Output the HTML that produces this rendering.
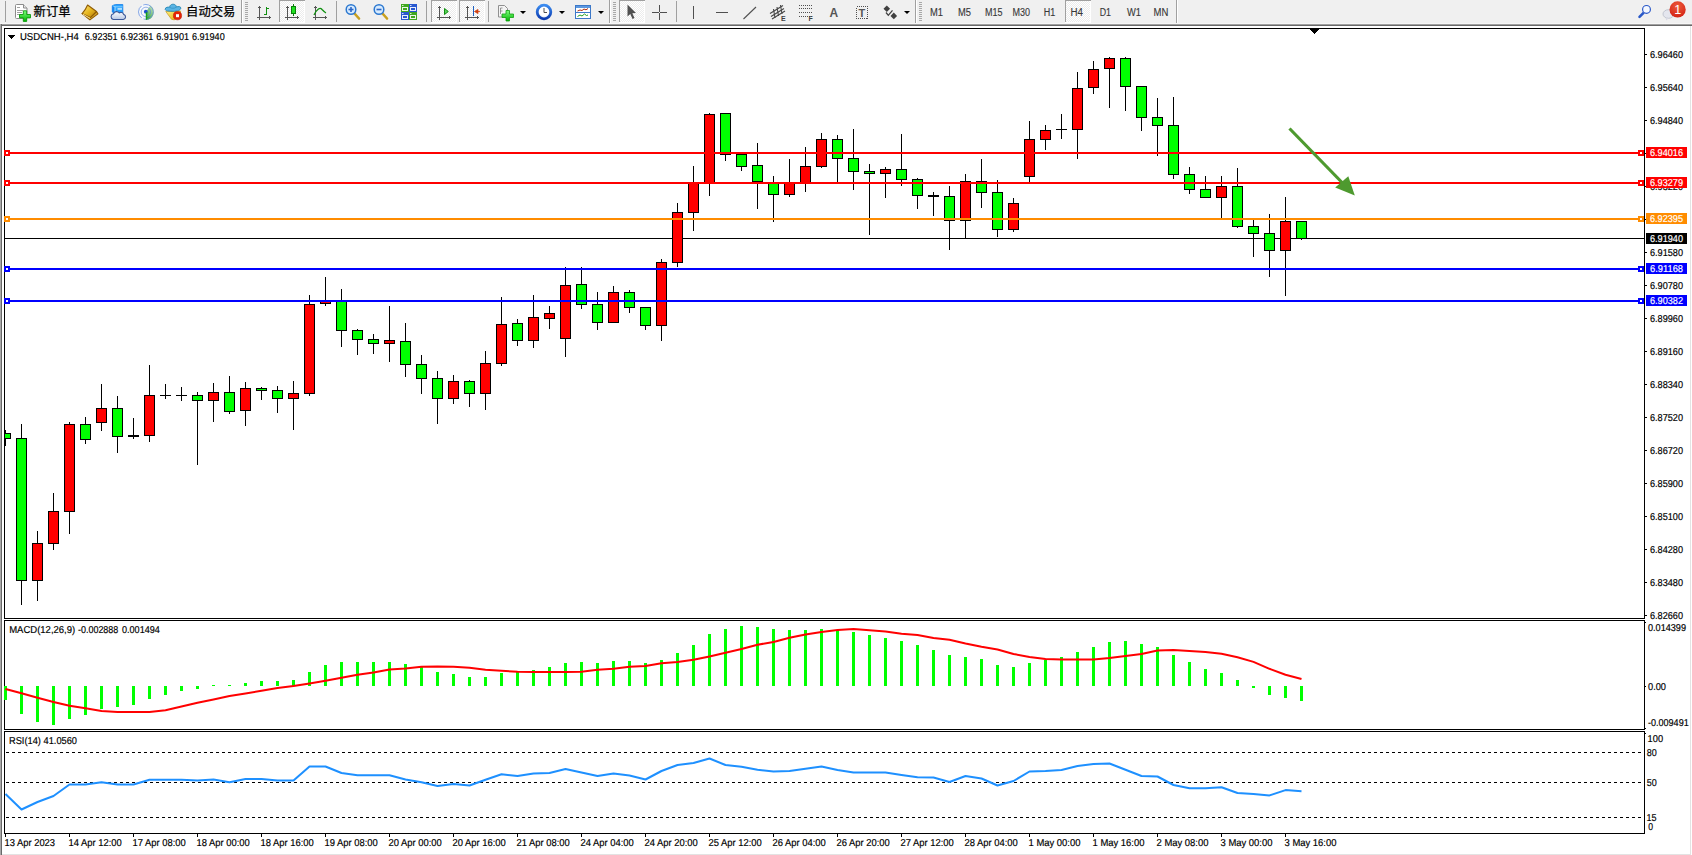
<!DOCTYPE html>
<html lang="zh"><head><meta charset="utf-8"><title>USDCNH H4</title>
<style>
html,body{margin:0;padding:0;background:#fff;overflow:hidden}
body{width:1692px;height:855px;position:relative;font-family:"Liberation Sans", "Noto Sans CJK SC", sans-serif;}
#tb{position:absolute;left:0;top:0;width:1692px;height:23px;background:#f0f0f0;overflow:hidden}
#tb .t{position:absolute;white-space:nowrap;color:#000;-webkit-text-stroke:0.25px #000}
#tb .tf{position:absolute;white-space:nowrap;color:#3c3c3c;font-size:10px;line-height:10px;top:8px;transform-origin:0 0}
</style></head><body>
<svg id="chart" width="1692" height="855" viewBox="0 0 1692 855" shape-rendering="crispEdges" text-rendering="geometricPrecision" font-family='"Liberation Sans", sans-serif' style="position:absolute;left:0;top:0">
<defs><clipPath id="cm"><rect x="5" y="29" width="1639" height="589"/></clipPath></defs>
<rect x="0" y="23" width="1692" height="1" fill="#f6f6f6"/>
<rect x="0" y="24" width="1692" height="1" fill="#a0a0a0"/>
<rect x="0" y="25" width="1692" height="1" fill="#696969"/>
<rect x="1" y="24" width="1" height="831" fill="#696969"/>
<rect x="1690" y="26" width="1" height="829" fill="#e3e3e3"/>
<rect x="2" y="854" width="1689" height="1" fill="#e3e3e3"/>
<rect x="0" y="24" width="1" height="831" fill="#a8a8a8"/>
<rect x="4" y="28" width="1641" height="1" fill="#000"/>
<rect x="4" y="618" width="1641" height="1" fill="#000"/>
<rect x="4" y="28" width="1" height="591" fill="#000"/>
<rect x="1644" y="28" width="1" height="591" fill="#000"/>
<rect x="4" y="620" width="1641" height="1" fill="#000"/>
<rect x="4" y="729" width="1641" height="1" fill="#000"/>
<rect x="4" y="620" width="1" height="110" fill="#000"/>
<rect x="1644" y="620" width="1" height="110" fill="#000"/>
<rect x="4" y="731" width="1641" height="1" fill="#000"/>
<rect x="4" y="833" width="1641" height="1" fill="#000"/>
<rect x="4" y="731" width="1" height="103" fill="#000"/>
<rect x="1644" y="731" width="1" height="103" fill="#000"/>
<g clip-path="url(#cm)">
<rect x="5" y="238" width="1639" height="1" fill="#000"/>
<rect x="5" y="430" width="1" height="16" fill="#000"/>
<rect x="0" y="433" width="11" height="6" fill="#000"/>
<rect x="1" y="434" width="9" height="4" fill="#00ff00"/>
<rect x="21" y="424" width="1" height="181" fill="#000"/>
<rect x="16" y="438" width="11" height="143" fill="#000"/>
<rect x="17" y="439" width="9" height="141" fill="#00ff00"/>
<rect x="37" y="531" width="1" height="70" fill="#000"/>
<rect x="32" y="543" width="11" height="38" fill="#000"/>
<rect x="33" y="544" width="9" height="36" fill="#ff0000"/>
<rect x="53" y="493" width="1" height="57" fill="#000"/>
<rect x="48" y="511" width="11" height="33" fill="#000"/>
<rect x="49" y="512" width="9" height="31" fill="#ff0000"/>
<rect x="69" y="422" width="1" height="112" fill="#000"/>
<rect x="64" y="424" width="11" height="88" fill="#000"/>
<rect x="65" y="425" width="9" height="86" fill="#ff0000"/>
<rect x="85" y="417" width="1" height="27" fill="#000"/>
<rect x="80" y="424" width="11" height="16" fill="#000"/>
<rect x="81" y="425" width="9" height="14" fill="#00ff00"/>
<rect x="101" y="384" width="1" height="47" fill="#000"/>
<rect x="96" y="408" width="11" height="15" fill="#000"/>
<rect x="97" y="409" width="9" height="13" fill="#ff0000"/>
<rect x="117" y="396" width="1" height="57" fill="#000"/>
<rect x="112" y="408" width="11" height="29" fill="#000"/>
<rect x="113" y="409" width="9" height="27" fill="#00ff00"/>
<rect x="133" y="418" width="1" height="21" fill="#000"/>
<rect x="128" y="435" width="11" height="2" fill="#000"/>
<rect x="149" y="365" width="1" height="77" fill="#000"/>
<rect x="144" y="395" width="11" height="41" fill="#000"/>
<rect x="145" y="396" width="9" height="39" fill="#ff0000"/>
<rect x="165" y="384" width="1" height="15" fill="#000"/>
<rect x="160" y="395" width="11" height="1" fill="#000"/>
<rect x="181" y="387" width="1" height="14" fill="#000"/>
<rect x="176" y="395" width="11" height="1" fill="#000"/>
<rect x="197" y="392" width="1" height="73" fill="#000"/>
<rect x="192" y="395" width="11" height="6" fill="#000"/>
<rect x="193" y="396" width="9" height="4" fill="#00ff00"/>
<rect x="213" y="383" width="1" height="39" fill="#000"/>
<rect x="208" y="392" width="11" height="9" fill="#000"/>
<rect x="209" y="393" width="9" height="7" fill="#ff0000"/>
<rect x="229" y="376" width="1" height="38" fill="#000"/>
<rect x="224" y="392" width="11" height="20" fill="#000"/>
<rect x="225" y="393" width="9" height="18" fill="#00ff00"/>
<rect x="245" y="382" width="1" height="44" fill="#000"/>
<rect x="240" y="388" width="11" height="23" fill="#000"/>
<rect x="241" y="389" width="9" height="21" fill="#ff0000"/>
<rect x="261" y="387" width="1" height="13" fill="#000"/>
<rect x="256" y="388" width="11" height="3" fill="#000"/>
<rect x="257" y="389" width="9" height="1" fill="#00ff00"/>
<rect x="277" y="386" width="1" height="27" fill="#000"/>
<rect x="272" y="390" width="11" height="9" fill="#000"/>
<rect x="273" y="391" width="9" height="7" fill="#00ff00"/>
<rect x="293" y="381" width="1" height="49" fill="#000"/>
<rect x="288" y="393" width="11" height="6" fill="#000"/>
<rect x="289" y="394" width="9" height="4" fill="#ff0000"/>
<rect x="309" y="295" width="1" height="101" fill="#000"/>
<rect x="304" y="304" width="11" height="90" fill="#000"/>
<rect x="305" y="305" width="9" height="88" fill="#ff0000"/>
<rect x="325" y="277" width="1" height="29" fill="#000"/>
<rect x="320" y="301" width="11" height="3" fill="#000"/>
<rect x="321" y="302" width="9" height="1" fill="#ff0000"/>
<rect x="341" y="289" width="1" height="58" fill="#000"/>
<rect x="336" y="301" width="11" height="30" fill="#000"/>
<rect x="337" y="302" width="9" height="28" fill="#00ff00"/>
<rect x="357" y="329" width="1" height="26" fill="#000"/>
<rect x="352" y="330" width="11" height="10" fill="#000"/>
<rect x="353" y="331" width="9" height="8" fill="#00ff00"/>
<rect x="373" y="334" width="1" height="20" fill="#000"/>
<rect x="368" y="339" width="11" height="5" fill="#000"/>
<rect x="369" y="340" width="9" height="3" fill="#00ff00"/>
<rect x="389" y="306" width="1" height="56" fill="#000"/>
<rect x="384" y="340" width="11" height="4" fill="#000"/>
<rect x="385" y="341" width="9" height="2" fill="#ff0000"/>
<rect x="405" y="323" width="1" height="54" fill="#000"/>
<rect x="400" y="341" width="11" height="24" fill="#000"/>
<rect x="401" y="342" width="9" height="22" fill="#00ff00"/>
<rect x="421" y="355" width="1" height="39" fill="#000"/>
<rect x="416" y="364" width="11" height="15" fill="#000"/>
<rect x="417" y="365" width="9" height="13" fill="#00ff00"/>
<rect x="437" y="371" width="1" height="53" fill="#000"/>
<rect x="432" y="378" width="11" height="21" fill="#000"/>
<rect x="433" y="379" width="9" height="19" fill="#00ff00"/>
<rect x="453" y="375" width="1" height="29" fill="#000"/>
<rect x="448" y="381" width="11" height="18" fill="#000"/>
<rect x="449" y="382" width="9" height="16" fill="#ff0000"/>
<rect x="469" y="380" width="1" height="27" fill="#000"/>
<rect x="464" y="381" width="11" height="13" fill="#000"/>
<rect x="465" y="382" width="9" height="11" fill="#00ff00"/>
<rect x="485" y="351" width="1" height="59" fill="#000"/>
<rect x="480" y="363" width="11" height="31" fill="#000"/>
<rect x="481" y="364" width="9" height="29" fill="#ff0000"/>
<rect x="501" y="297" width="1" height="69" fill="#000"/>
<rect x="496" y="324" width="11" height="40" fill="#000"/>
<rect x="497" y="325" width="9" height="38" fill="#ff0000"/>
<rect x="517" y="319" width="1" height="27" fill="#000"/>
<rect x="512" y="323" width="11" height="18" fill="#000"/>
<rect x="513" y="324" width="9" height="16" fill="#00ff00"/>
<rect x="533" y="295" width="1" height="53" fill="#000"/>
<rect x="528" y="317" width="11" height="24" fill="#000"/>
<rect x="529" y="318" width="9" height="22" fill="#ff0000"/>
<rect x="549" y="306" width="1" height="23" fill="#000"/>
<rect x="544" y="313" width="11" height="6" fill="#000"/>
<rect x="545" y="314" width="9" height="4" fill="#ff0000"/>
<rect x="565" y="267" width="1" height="90" fill="#000"/>
<rect x="560" y="285" width="11" height="54" fill="#000"/>
<rect x="561" y="286" width="9" height="52" fill="#ff0000"/>
<rect x="581" y="267" width="1" height="42" fill="#000"/>
<rect x="576" y="284" width="11" height="21" fill="#000"/>
<rect x="577" y="285" width="9" height="19" fill="#00ff00"/>
<rect x="597" y="292" width="1" height="38" fill="#000"/>
<rect x="592" y="304" width="11" height="19" fill="#000"/>
<rect x="593" y="305" width="9" height="17" fill="#00ff00"/>
<rect x="613" y="286" width="1" height="37" fill="#000"/>
<rect x="608" y="292" width="11" height="31" fill="#000"/>
<rect x="609" y="293" width="9" height="29" fill="#ff0000"/>
<rect x="629" y="290" width="1" height="23" fill="#000"/>
<rect x="624" y="292" width="11" height="16" fill="#000"/>
<rect x="625" y="293" width="9" height="14" fill="#00ff00"/>
<rect x="645" y="307" width="1" height="23" fill="#000"/>
<rect x="640" y="307" width="11" height="19" fill="#000"/>
<rect x="641" y="308" width="9" height="17" fill="#00ff00"/>
<rect x="661" y="259" width="1" height="82" fill="#000"/>
<rect x="656" y="262" width="11" height="64" fill="#000"/>
<rect x="657" y="263" width="9" height="62" fill="#ff0000"/>
<rect x="677" y="203" width="1" height="64" fill="#000"/>
<rect x="672" y="212" width="11" height="51" fill="#000"/>
<rect x="673" y="213" width="9" height="49" fill="#ff0000"/>
<rect x="693" y="166" width="1" height="65" fill="#000"/>
<rect x="688" y="183" width="11" height="30" fill="#000"/>
<rect x="689" y="184" width="9" height="28" fill="#ff0000"/>
<rect x="709" y="113" width="1" height="83" fill="#000"/>
<rect x="704" y="114" width="11" height="70" fill="#000"/>
<rect x="705" y="115" width="9" height="68" fill="#ff0000"/>
<rect x="725" y="113" width="1" height="48" fill="#000"/>
<rect x="720" y="113" width="11" height="42" fill="#000"/>
<rect x="721" y="114" width="9" height="40" fill="#00ff00"/>
<rect x="741" y="154" width="1" height="17" fill="#000"/>
<rect x="736" y="154" width="11" height="13" fill="#000"/>
<rect x="737" y="155" width="9" height="11" fill="#00ff00"/>
<rect x="757" y="143" width="1" height="66" fill="#000"/>
<rect x="752" y="165" width="11" height="17" fill="#000"/>
<rect x="753" y="166" width="9" height="15" fill="#00ff00"/>
<rect x="773" y="176" width="1" height="46" fill="#000"/>
<rect x="768" y="183" width="11" height="12" fill="#000"/>
<rect x="769" y="184" width="9" height="10" fill="#00ff00"/>
<rect x="789" y="159" width="1" height="38" fill="#000"/>
<rect x="784" y="183" width="11" height="12" fill="#000"/>
<rect x="785" y="184" width="9" height="10" fill="#ff0000"/>
<rect x="805" y="147" width="1" height="45" fill="#000"/>
<rect x="800" y="166" width="11" height="18" fill="#000"/>
<rect x="801" y="167" width="9" height="16" fill="#ff0000"/>
<rect x="821" y="133" width="1" height="35" fill="#000"/>
<rect x="816" y="139" width="11" height="28" fill="#000"/>
<rect x="817" y="140" width="9" height="26" fill="#ff0000"/>
<rect x="837" y="135" width="1" height="47" fill="#000"/>
<rect x="832" y="139" width="11" height="20" fill="#000"/>
<rect x="833" y="140" width="9" height="18" fill="#00ff00"/>
<rect x="853" y="129" width="1" height="61" fill="#000"/>
<rect x="848" y="158" width="11" height="14" fill="#000"/>
<rect x="849" y="159" width="9" height="12" fill="#00ff00"/>
<rect x="869" y="164" width="1" height="71" fill="#000"/>
<rect x="864" y="171" width="11" height="3" fill="#000"/>
<rect x="865" y="172" width="9" height="1" fill="#00ff00"/>
<rect x="885" y="167" width="1" height="31" fill="#000"/>
<rect x="880" y="169" width="11" height="5" fill="#000"/>
<rect x="881" y="170" width="9" height="3" fill="#ff0000"/>
<rect x="901" y="134" width="1" height="52" fill="#000"/>
<rect x="896" y="169" width="11" height="11" fill="#000"/>
<rect x="897" y="170" width="9" height="9" fill="#00ff00"/>
<rect x="917" y="178" width="1" height="31" fill="#000"/>
<rect x="912" y="179" width="11" height="17" fill="#000"/>
<rect x="913" y="180" width="9" height="15" fill="#00ff00"/>
<rect x="933" y="192" width="1" height="24" fill="#000"/>
<rect x="928" y="195" width="11" height="2" fill="#000"/>
<rect x="949" y="186" width="1" height="64" fill="#000"/>
<rect x="944" y="196" width="11" height="25" fill="#000"/>
<rect x="945" y="197" width="9" height="23" fill="#00ff00"/>
<rect x="965" y="174" width="1" height="64" fill="#000"/>
<rect x="960" y="181" width="11" height="40" fill="#000"/>
<rect x="961" y="182" width="9" height="38" fill="#ff0000"/>
<rect x="981" y="159" width="1" height="49" fill="#000"/>
<rect x="976" y="181" width="11" height="12" fill="#000"/>
<rect x="977" y="182" width="9" height="10" fill="#00ff00"/>
<rect x="997" y="180" width="1" height="57" fill="#000"/>
<rect x="992" y="192" width="11" height="38" fill="#000"/>
<rect x="993" y="193" width="9" height="36" fill="#00ff00"/>
<rect x="1013" y="198" width="1" height="34" fill="#000"/>
<rect x="1008" y="203" width="11" height="27" fill="#000"/>
<rect x="1009" y="204" width="9" height="25" fill="#ff0000"/>
<rect x="1029" y="121" width="1" height="61" fill="#000"/>
<rect x="1024" y="139" width="11" height="38" fill="#000"/>
<rect x="1025" y="140" width="9" height="36" fill="#ff0000"/>
<rect x="1045" y="125" width="1" height="25" fill="#000"/>
<rect x="1040" y="130" width="11" height="10" fill="#000"/>
<rect x="1041" y="131" width="9" height="8" fill="#ff0000"/>
<rect x="1061" y="114" width="1" height="25" fill="#000"/>
<rect x="1056" y="129" width="11" height="1" fill="#000"/>
<rect x="1077" y="72" width="1" height="87" fill="#000"/>
<rect x="1072" y="88" width="11" height="42" fill="#000"/>
<rect x="1073" y="89" width="9" height="40" fill="#ff0000"/>
<rect x="1093" y="61" width="1" height="33" fill="#000"/>
<rect x="1088" y="69" width="11" height="19" fill="#000"/>
<rect x="1089" y="70" width="9" height="17" fill="#ff0000"/>
<rect x="1109" y="57" width="1" height="51" fill="#000"/>
<rect x="1104" y="58" width="11" height="11" fill="#000"/>
<rect x="1105" y="59" width="9" height="9" fill="#ff0000"/>
<rect x="1125" y="57" width="1" height="54" fill="#000"/>
<rect x="1120" y="58" width="11" height="29" fill="#000"/>
<rect x="1121" y="59" width="9" height="27" fill="#00ff00"/>
<rect x="1141" y="86" width="1" height="45" fill="#000"/>
<rect x="1136" y="86" width="11" height="32" fill="#000"/>
<rect x="1137" y="87" width="9" height="30" fill="#00ff00"/>
<rect x="1157" y="98" width="1" height="58" fill="#000"/>
<rect x="1152" y="117" width="11" height="9" fill="#000"/>
<rect x="1153" y="118" width="9" height="7" fill="#00ff00"/>
<rect x="1173" y="97" width="1" height="82" fill="#000"/>
<rect x="1168" y="125" width="11" height="50" fill="#000"/>
<rect x="1169" y="126" width="9" height="48" fill="#00ff00"/>
<rect x="1189" y="167" width="1" height="27" fill="#000"/>
<rect x="1184" y="174" width="11" height="16" fill="#000"/>
<rect x="1185" y="175" width="9" height="14" fill="#00ff00"/>
<rect x="1205" y="176" width="1" height="22" fill="#000"/>
<rect x="1200" y="189" width="11" height="9" fill="#000"/>
<rect x="1201" y="190" width="9" height="7" fill="#00ff00"/>
<rect x="1221" y="176" width="1" height="42" fill="#000"/>
<rect x="1216" y="186" width="11" height="12" fill="#000"/>
<rect x="1217" y="187" width="9" height="10" fill="#ff0000"/>
<rect x="1237" y="168" width="1" height="60" fill="#000"/>
<rect x="1232" y="186" width="11" height="41" fill="#000"/>
<rect x="1233" y="187" width="9" height="39" fill="#00ff00"/>
<rect x="1253" y="220" width="1" height="37" fill="#000"/>
<rect x="1248" y="226" width="11" height="8" fill="#000"/>
<rect x="1249" y="227" width="9" height="6" fill="#00ff00"/>
<rect x="1269" y="214" width="1" height="63" fill="#000"/>
<rect x="1264" y="233" width="11" height="18" fill="#000"/>
<rect x="1265" y="234" width="9" height="16" fill="#00ff00"/>
<rect x="1285" y="197" width="1" height="99" fill="#000"/>
<rect x="1280" y="221" width="11" height="30" fill="#000"/>
<rect x="1281" y="222" width="9" height="28" fill="#ff0000"/>
<rect x="1301" y="221" width="1" height="19" fill="#000"/>
<rect x="1296" y="221" width="11" height="18" fill="#000"/>
<rect x="1297" y="222" width="9" height="16" fill="#00ff00"/>
</g>
<rect x="5" y="152" width="1639" height="2" fill="#ff0000"/>
<rect x="4" y="150" width="6" height="6" fill="#ff0000"/>
<rect x="6" y="152" width="2" height="2" fill="#fff"/>
<rect x="1638" y="150" width="6" height="6" fill="#ff0000"/>
<rect x="1640" y="152" width="2" height="2" fill="#fff"/>
<rect x="5" y="182" width="1639" height="2" fill="#ff0000"/>
<rect x="4" y="180" width="6" height="6" fill="#ff0000"/>
<rect x="6" y="182" width="2" height="2" fill="#fff"/>
<rect x="1638" y="180" width="6" height="6" fill="#ff0000"/>
<rect x="1640" y="182" width="2" height="2" fill="#fff"/>
<rect x="5" y="218" width="1639" height="2" fill="#ff8c00"/>
<rect x="4" y="216" width="6" height="6" fill="#ff8c00"/>
<rect x="6" y="218" width="2" height="2" fill="#fff"/>
<rect x="1638" y="216" width="6" height="6" fill="#ff8c00"/>
<rect x="1640" y="218" width="2" height="2" fill="#fff"/>
<rect x="5" y="268" width="1639" height="2" fill="#0000ff"/>
<rect x="4" y="266" width="6" height="6" fill="#0000ff"/>
<rect x="6" y="268" width="2" height="2" fill="#fff"/>
<rect x="1638" y="266" width="6" height="6" fill="#0000ff"/>
<rect x="1640" y="268" width="2" height="2" fill="#fff"/>
<rect x="5" y="300" width="1639" height="2" fill="#0000ff"/>
<rect x="4" y="298" width="6" height="6" fill="#0000ff"/>
<rect x="6" y="300" width="2" height="2" fill="#fff"/>
<rect x="1638" y="298" width="6" height="6" fill="#0000ff"/>
<rect x="1640" y="300" width="2" height="2" fill="#fff"/>
<rect x="1644" y="28" width="1" height="591" fill="#000"/>
<g shape-rendering="geometricPrecision">
<line x1="1289.5" y1="128.5" x2="1343" y2="183.5" stroke="#4e9a2f" stroke-width="3.2"/>
<polygon points="1354.8,195.6 1335.2,187.6 1348.3,176.3" fill="#4e9a2f"/>
</g>
<rect x="1310" y="29" width="9" height="1" fill="#000"/>
<rect x="1311" y="30" width="7" height="1" fill="#000"/>
<rect x="1312" y="31" width="5" height="1" fill="#000"/>
<rect x="1313" y="32" width="3" height="1" fill="#000"/>
<rect x="1314" y="33" width="1" height="1" fill="#000"/>
<rect x="8" y="35" width="7" height="1" fill="#000"/>
<rect x="9" y="36" width="5" height="1" fill="#000"/>
<rect x="10" y="37" width="3" height="1" fill="#000"/>
<rect x="11" y="38" width="1" height="1" fill="#000"/>
<g text-rendering="geometricPrecision">
<rect x="1645" y="54" width="2" height="1" fill="#000"/>
<text x="1650" y="58" font-size="10" fill="#000" stroke="#000" stroke-width="0.18" textLength="33" lengthAdjust="spacingAndGlyphs">6.96460</text>
<rect x="1645" y="87" width="2" height="1" fill="#000"/>
<text x="1650" y="91" font-size="10" fill="#000" stroke="#000" stroke-width="0.18" textLength="33" lengthAdjust="spacingAndGlyphs">6.95640</text>
<rect x="1645" y="120" width="2" height="1" fill="#000"/>
<text x="1650" y="124" font-size="10" fill="#000" stroke="#000" stroke-width="0.18" textLength="33" lengthAdjust="spacingAndGlyphs">6.94840</text>
<rect x="1645" y="153" width="2" height="1" fill="#000"/>
<text x="1650" y="157" font-size="10" fill="#000" stroke="#000" stroke-width="0.18" textLength="33" lengthAdjust="spacingAndGlyphs">6.94020</text>
<rect x="1645" y="186" width="2" height="1" fill="#000"/>
<text x="1650" y="190" font-size="10" fill="#000" stroke="#000" stroke-width="0.18" textLength="33" lengthAdjust="spacingAndGlyphs">6.93220</text>
<rect x="1645" y="219" width="2" height="1" fill="#000"/>
<text x="1650" y="223" font-size="10" fill="#000" stroke="#000" stroke-width="0.18" textLength="33" lengthAdjust="spacingAndGlyphs">6.92400</text>
<rect x="1645" y="252" width="2" height="1" fill="#000"/>
<text x="1650" y="256" font-size="10" fill="#000" stroke="#000" stroke-width="0.18" textLength="33" lengthAdjust="spacingAndGlyphs">6.91580</text>
<rect x="1645" y="285" width="2" height="1" fill="#000"/>
<text x="1650" y="289" font-size="10" fill="#000" stroke="#000" stroke-width="0.18" textLength="33" lengthAdjust="spacingAndGlyphs">6.90780</text>
<rect x="1645" y="318" width="2" height="1" fill="#000"/>
<text x="1650" y="322" font-size="10" fill="#000" stroke="#000" stroke-width="0.18" textLength="33" lengthAdjust="spacingAndGlyphs">6.89960</text>
<rect x="1645" y="351" width="2" height="1" fill="#000"/>
<text x="1650" y="355" font-size="10" fill="#000" stroke="#000" stroke-width="0.18" textLength="33" lengthAdjust="spacingAndGlyphs">6.89160</text>
<rect x="1645" y="384" width="2" height="1" fill="#000"/>
<text x="1650" y="388" font-size="10" fill="#000" stroke="#000" stroke-width="0.18" textLength="33" lengthAdjust="spacingAndGlyphs">6.88340</text>
<rect x="1645" y="417" width="2" height="1" fill="#000"/>
<text x="1650" y="421" font-size="10" fill="#000" stroke="#000" stroke-width="0.18" textLength="33" lengthAdjust="spacingAndGlyphs">6.87520</text>
<rect x="1645" y="450" width="2" height="1" fill="#000"/>
<text x="1650" y="454" font-size="10" fill="#000" stroke="#000" stroke-width="0.18" textLength="33" lengthAdjust="spacingAndGlyphs">6.86720</text>
<rect x="1645" y="483" width="2" height="1" fill="#000"/>
<text x="1650" y="487" font-size="10" fill="#000" stroke="#000" stroke-width="0.18" textLength="33" lengthAdjust="spacingAndGlyphs">6.85900</text>
<rect x="1645" y="516" width="2" height="1" fill="#000"/>
<text x="1650" y="520" font-size="10" fill="#000" stroke="#000" stroke-width="0.18" textLength="33" lengthAdjust="spacingAndGlyphs">6.85100</text>
<rect x="1645" y="549" width="2" height="1" fill="#000"/>
<text x="1650" y="553" font-size="10" fill="#000" stroke="#000" stroke-width="0.18" textLength="33" lengthAdjust="spacingAndGlyphs">6.84280</text>
<rect x="1645" y="582" width="2" height="1" fill="#000"/>
<text x="1650" y="586" font-size="10" fill="#000" stroke="#000" stroke-width="0.18" textLength="33" lengthAdjust="spacingAndGlyphs">6.83480</text>
<rect x="1645" y="615" width="2" height="1" fill="#000"/>
<text x="1650" y="619" font-size="10" fill="#000" stroke="#000" stroke-width="0.18" textLength="33" lengthAdjust="spacingAndGlyphs">6.82660</text>
<rect x="1646" y="147" width="41" height="11" fill="#ff0000"/>
<text x="1650" y="156" font-size="10" fill="#fff" stroke="#fff" stroke-width="0.18" textLength="33" lengthAdjust="spacingAndGlyphs">6.94016</text>
<rect x="1646" y="177" width="41" height="11" fill="#ff0000"/>
<text x="1650" y="186" font-size="10" fill="#fff" stroke="#fff" stroke-width="0.18" textLength="33" lengthAdjust="spacingAndGlyphs">6.93279</text>
<rect x="1646" y="213" width="41" height="11" fill="#ff8c00"/>
<text x="1650" y="222" font-size="10" fill="#fff" stroke="#fff" stroke-width="0.18" textLength="33" lengthAdjust="spacingAndGlyphs">6.92395</text>
<rect x="1646" y="263" width="41" height="11" fill="#0000ff"/>
<text x="1650" y="272" font-size="10" fill="#fff" stroke="#fff" stroke-width="0.18" textLength="33" lengthAdjust="spacingAndGlyphs">6.91168</text>
<rect x="1646" y="295" width="41" height="11" fill="#0000ff"/>
<text x="1650" y="304" font-size="10" fill="#fff" stroke="#fff" stroke-width="0.18" textLength="33" lengthAdjust="spacingAndGlyphs">6.90382</text>
<rect x="1646" y="233" width="41" height="11" fill="#000"/>
<text x="1650" y="242" font-size="10" fill="#fff" stroke="#fff" stroke-width="0.18" textLength="33" lengthAdjust="spacingAndGlyphs">6.91940</text>
<rect x="4" y="686" width="3" height="14" fill="#00ff00"/>
<rect x="20" y="686" width="3" height="28" fill="#00ff00"/>
<rect x="36" y="686" width="3" height="36" fill="#00ff00"/>
<rect x="52" y="686" width="3" height="39" fill="#00ff00"/>
<rect x="68" y="686" width="3" height="33" fill="#00ff00"/>
<rect x="84" y="686" width="3" height="29" fill="#00ff00"/>
<rect x="100" y="686" width="3" height="23" fill="#00ff00"/>
<rect x="116" y="686" width="3" height="21" fill="#00ff00"/>
<rect x="132" y="686" width="3" height="19" fill="#00ff00"/>
<rect x="148" y="686" width="3" height="13" fill="#00ff00"/>
<rect x="164" y="686" width="3" height="9" fill="#00ff00"/>
<rect x="180" y="686" width="3" height="5" fill="#00ff00"/>
<rect x="196" y="686" width="3" height="3" fill="#00ff00"/>
<rect x="212" y="685" width="3" height="1" fill="#00ff00"/>
<rect x="228" y="685" width="3" height="1" fill="#00ff00"/>
<rect x="244" y="683" width="3" height="3" fill="#00ff00"/>
<rect x="260" y="681" width="3" height="5" fill="#00ff00"/>
<rect x="276" y="681" width="3" height="5" fill="#00ff00"/>
<rect x="292" y="680" width="3" height="6" fill="#00ff00"/>
<rect x="308" y="672" width="3" height="14" fill="#00ff00"/>
<rect x="324" y="665" width="3" height="21" fill="#00ff00"/>
<rect x="340" y="662" width="3" height="24" fill="#00ff00"/>
<rect x="356" y="662" width="3" height="24" fill="#00ff00"/>
<rect x="372" y="662" width="3" height="24" fill="#00ff00"/>
<rect x="388" y="662" width="3" height="24" fill="#00ff00"/>
<rect x="404" y="664" width="3" height="22" fill="#00ff00"/>
<rect x="420" y="666" width="3" height="20" fill="#00ff00"/>
<rect x="436" y="672" width="3" height="14" fill="#00ff00"/>
<rect x="452" y="674" width="3" height="12" fill="#00ff00"/>
<rect x="468" y="677" width="3" height="9" fill="#00ff00"/>
<rect x="484" y="677" width="3" height="9" fill="#00ff00"/>
<rect x="500" y="673" width="3" height="13" fill="#00ff00"/>
<rect x="516" y="672" width="3" height="14" fill="#00ff00"/>
<rect x="532" y="670" width="3" height="16" fill="#00ff00"/>
<rect x="548" y="667" width="3" height="19" fill="#00ff00"/>
<rect x="564" y="663" width="3" height="23" fill="#00ff00"/>
<rect x="580" y="662" width="3" height="24" fill="#00ff00"/>
<rect x="596" y="663" width="3" height="23" fill="#00ff00"/>
<rect x="612" y="661" width="3" height="25" fill="#00ff00"/>
<rect x="628" y="661" width="3" height="25" fill="#00ff00"/>
<rect x="644" y="663" width="3" height="23" fill="#00ff00"/>
<rect x="660" y="660" width="3" height="26" fill="#00ff00"/>
<rect x="676" y="653" width="3" height="33" fill="#00ff00"/>
<rect x="692" y="645" width="3" height="41" fill="#00ff00"/>
<rect x="708" y="634" width="3" height="52" fill="#00ff00"/>
<rect x="724" y="629" width="3" height="57" fill="#00ff00"/>
<rect x="740" y="626" width="3" height="60" fill="#00ff00"/>
<rect x="756" y="627" width="3" height="59" fill="#00ff00"/>
<rect x="772" y="629" width="3" height="57" fill="#00ff00"/>
<rect x="788" y="630" width="3" height="56" fill="#00ff00"/>
<rect x="804" y="630" width="3" height="56" fill="#00ff00"/>
<rect x="820" y="629" width="3" height="57" fill="#00ff00"/>
<rect x="836" y="630" width="3" height="56" fill="#00ff00"/>
<rect x="852" y="632" width="3" height="54" fill="#00ff00"/>
<rect x="868" y="635" width="3" height="51" fill="#00ff00"/>
<rect x="884" y="638" width="3" height="48" fill="#00ff00"/>
<rect x="900" y="641" width="3" height="45" fill="#00ff00"/>
<rect x="916" y="645" width="3" height="41" fill="#00ff00"/>
<rect x="932" y="650" width="3" height="36" fill="#00ff00"/>
<rect x="948" y="655" width="3" height="31" fill="#00ff00"/>
<rect x="964" y="657" width="3" height="29" fill="#00ff00"/>
<rect x="980" y="659" width="3" height="27" fill="#00ff00"/>
<rect x="996" y="665" width="3" height="21" fill="#00ff00"/>
<rect x="1012" y="667" width="3" height="19" fill="#00ff00"/>
<rect x="1028" y="663" width="3" height="23" fill="#00ff00"/>
<rect x="1044" y="660" width="3" height="26" fill="#00ff00"/>
<rect x="1060" y="657" width="3" height="29" fill="#00ff00"/>
<rect x="1076" y="652" width="3" height="34" fill="#00ff00"/>
<rect x="1092" y="647" width="3" height="39" fill="#00ff00"/>
<rect x="1108" y="642" width="3" height="44" fill="#00ff00"/>
<rect x="1124" y="641" width="3" height="45" fill="#00ff00"/>
<rect x="1140" y="644" width="3" height="42" fill="#00ff00"/>
<rect x="1156" y="647" width="3" height="39" fill="#00ff00"/>
<rect x="1172" y="655" width="3" height="31" fill="#00ff00"/>
<rect x="1188" y="662" width="3" height="24" fill="#00ff00"/>
<rect x="1204" y="669" width="3" height="17" fill="#00ff00"/>
<rect x="1220" y="673" width="3" height="13" fill="#00ff00"/>
<rect x="1236" y="680" width="3" height="6" fill="#00ff00"/>
<rect x="1252" y="686" width="3" height="2" fill="#00ff00"/>
<rect x="1268" y="686" width="3" height="9" fill="#00ff00"/>
<rect x="1284" y="686" width="3" height="12" fill="#00ff00"/>
<rect x="1300" y="686" width="3" height="15" fill="#00ff00"/>
</g>
<polyline points="5.5,689.0 21.5,693.25 37.5,697.75 53.5,702.0 69.5,705.75 85.5,708.25 101.5,711.0 117.5,712.0 133.5,712.0 149.5,712.0 165.5,710.25 181.5,706.5 197.5,702.75 213.5,699.5 229.5,696.0 245.5,693.5 261.5,690.75 277.5,688.0 293.5,686.0 309.5,683.5 325.5,680.75 341.5,677.75 357.5,674.75 373.5,672.5 389.5,669.5 405.5,668.5 421.5,666.75 437.5,666.5 453.5,666.75 469.5,667.75 485.5,669.75 501.5,670.75 517.5,671.75 533.5,672.0 549.5,672.0 565.5,672.0 581.5,671.75 597.5,669.75 613.5,668.75 629.5,666.75 645.5,666.0 661.5,663.25 677.5,662.0 693.5,659.75 709.5,656.5 725.5,652.75 741.5,649.0 757.5,644.75 773.5,642.0 789.5,637.75 805.5,634.5 821.5,632.0 837.5,630.0 853.5,629.0 869.5,630.25 885.5,631.5 901.5,633.75 917.5,635.0 933.5,638.0 949.5,639.75 965.5,643.5 981.5,646.75 997.5,649.5 1013.5,654.0 1029.5,657.0 1045.5,659.0 1061.5,659.5 1077.5,659.5 1093.5,659.5 1109.5,658.0 1125.5,656.0 1141.5,654.0 1157.5,650.5 1173.5,650.0 1189.5,651.0 1205.5,652.0 1221.5,653.75 1237.5,657.2 1253.5,661.9 1269.5,668.8 1285.5,674.7 1301.5,679.0" fill="none" stroke="#ff0000" stroke-width="2" shape-rendering="geometricPrecision" stroke-linejoin="round"/>
<rect x="1645" y="622" width="1" height="1" fill="#000"/>
<rect x="1645" y="686" width="1" height="1" fill="#000"/>
<rect x="1645" y="728" width="1" height="1" fill="#000"/>
<text x="1648" y="631" font-size="10" fill="#000" stroke="#000" stroke-width="0.18" textLength="38" lengthAdjust="spacingAndGlyphs">0.014399</text>
<text x="1648" y="690" font-size="10" fill="#000" stroke="#000" stroke-width="0.18" textLength="18" lengthAdjust="spacingAndGlyphs">0.00</text>
<text x="1648" y="726" font-size="10" fill="#000" stroke="#000" stroke-width="0.18" textLength="40.7" lengthAdjust="spacingAndGlyphs">-0.009491</text>
<text x="9.2" y="633" font-size="10" fill="#000" stroke="#000" stroke-width="0.18" textLength="66" lengthAdjust="spacingAndGlyphs">MACD(12,26,9)</text>
<text x="78" y="633" font-size="10" fill="#000" stroke="#000" stroke-width="0.18" textLength="40.3" lengthAdjust="spacingAndGlyphs">-0.002888</text>
<text x="122" y="633" font-size="10" fill="#000" stroke="#000" stroke-width="0.18" textLength="37.8" lengthAdjust="spacingAndGlyphs">0.001494</text>
<line x1="6" y1="752.5" x2="1644" y2="752.5" stroke="#000" stroke-width="1" stroke-dasharray="3,3"/>
<line x1="6" y1="782.5" x2="1644" y2="782.5" stroke="#000" stroke-width="1" stroke-dasharray="3,3"/>
<line x1="6" y1="817.5" x2="1644" y2="817.5" stroke="#000" stroke-width="1" stroke-dasharray="3,3"/>
<polyline points="5.5,794.0 21.5,809.5 37.5,802.0 53.5,796.0 69.5,784.5 85.5,784.5 101.5,782.25 117.5,784.5 133.5,784.5 149.5,779.75 165.5,779.75 181.5,779.75 197.5,780.5 213.5,779.5 229.5,782.25 245.5,779.0 261.5,779.0 277.5,780.5 293.5,780.5 309.5,766.5 325.5,766.5 341.5,773.0 357.5,775.25 373.5,775.25 389.5,775.25 405.5,779.5 421.5,782.25 437.5,786.0 453.5,784.0 469.5,785.5 485.5,779.75 501.5,774.25 517.5,776.0 533.5,773.5 549.5,773.0 565.5,769.0 581.5,772.5 597.5,776.0 613.5,773.5 629.5,775.5 645.5,779.5 661.5,771.0 677.5,765.0 693.5,763.0 709.5,758.5 725.5,765.0 741.5,766.75 757.5,769.75 773.5,771.5 789.5,771.0 805.5,768.75 821.5,766.5 837.5,770.0 853.5,772.5 869.5,772.5 885.5,772.5 901.5,775.0 917.5,777.25 933.5,777.5 949.5,782.0 965.5,776.0 981.5,778.5 997.5,785.5 1013.5,781.0 1029.5,771.5 1045.5,771.0 1061.5,770.0 1077.5,766.0 1093.5,764.0 1109.5,763.5 1125.5,769.75 1141.5,776.0 1157.5,776.5 1173.5,785.0 1189.5,788.25 1205.5,788.2 1221.5,787.2 1237.5,793.0 1253.5,793.9 1269.5,795.4 1285.5,790.1 1301.5,791.3" fill="none" stroke="#1e90ff" stroke-width="2" shape-rendering="geometricPrecision" stroke-linejoin="round"/>
<text x="9" y="744" font-size="10" fill="#000" stroke="#000" stroke-width="0.18" textLength="68" lengthAdjust="spacingAndGlyphs">RSI(14) 41.0560</text>
<text x="1647.6" y="742" font-size="10" fill="#000" stroke="#000" stroke-width="0.18" textLength="15.5" lengthAdjust="spacingAndGlyphs">100</text>
<text x="1646.8" y="756" font-size="10" fill="#000" stroke="#000" stroke-width="0.18" textLength="10" lengthAdjust="spacingAndGlyphs">80</text>
<text x="1646.8" y="786" font-size="10" fill="#000" stroke="#000" stroke-width="0.18" textLength="10" lengthAdjust="spacingAndGlyphs">50</text>
<text x="1646.6" y="821" font-size="10" fill="#000" stroke="#000" stroke-width="0.18" textLength="10" lengthAdjust="spacingAndGlyphs">15</text>
<text x="1648.2" y="830" font-size="10" fill="#000" stroke="#000" stroke-width="0.18" textLength="4.8" lengthAdjust="spacingAndGlyphs">0</text>
<rect x="1645" y="733" width="1" height="1" fill="#000"/>
<rect x="5" y="834" width="1" height="3" fill="#000"/>
<text x="4.5" y="846" font-size="10" fill="#000" stroke="#000" stroke-width="0.18" textLength="50.5" lengthAdjust="spacingAndGlyphs">13 Apr 2023</text>
<rect x="69" y="834" width="1" height="3" fill="#000"/>
<text x="68.5" y="846" font-size="10" fill="#000" stroke="#000" stroke-width="0.18" textLength="53.3" lengthAdjust="spacingAndGlyphs">14 Apr 12:00</text>
<rect x="133" y="834" width="1" height="3" fill="#000"/>
<text x="132.5" y="846" font-size="10" fill="#000" stroke="#000" stroke-width="0.18" textLength="53.3" lengthAdjust="spacingAndGlyphs">17 Apr 08:00</text>
<rect x="197" y="834" width="1" height="3" fill="#000"/>
<text x="196.5" y="846" font-size="10" fill="#000" stroke="#000" stroke-width="0.18" textLength="53.3" lengthAdjust="spacingAndGlyphs">18 Apr 00:00</text>
<rect x="261" y="834" width="1" height="3" fill="#000"/>
<text x="260.5" y="846" font-size="10" fill="#000" stroke="#000" stroke-width="0.18" textLength="53.3" lengthAdjust="spacingAndGlyphs">18 Apr 16:00</text>
<rect x="325" y="834" width="1" height="3" fill="#000"/>
<text x="324.5" y="846" font-size="10" fill="#000" stroke="#000" stroke-width="0.18" textLength="53.3" lengthAdjust="spacingAndGlyphs">19 Apr 08:00</text>
<rect x="389" y="834" width="1" height="3" fill="#000"/>
<text x="388.5" y="846" font-size="10" fill="#000" stroke="#000" stroke-width="0.18" textLength="53.3" lengthAdjust="spacingAndGlyphs">20 Apr 00:00</text>
<rect x="453" y="834" width="1" height="3" fill="#000"/>
<text x="452.5" y="846" font-size="10" fill="#000" stroke="#000" stroke-width="0.18" textLength="53.3" lengthAdjust="spacingAndGlyphs">20 Apr 16:00</text>
<rect x="517" y="834" width="1" height="3" fill="#000"/>
<text x="516.5" y="846" font-size="10" fill="#000" stroke="#000" stroke-width="0.18" textLength="53.3" lengthAdjust="spacingAndGlyphs">21 Apr 08:00</text>
<rect x="581" y="834" width="1" height="3" fill="#000"/>
<text x="580.5" y="846" font-size="10" fill="#000" stroke="#000" stroke-width="0.18" textLength="53.3" lengthAdjust="spacingAndGlyphs">24 Apr 04:00</text>
<rect x="645" y="834" width="1" height="3" fill="#000"/>
<text x="644.5" y="846" font-size="10" fill="#000" stroke="#000" stroke-width="0.18" textLength="53.3" lengthAdjust="spacingAndGlyphs">24 Apr 20:00</text>
<rect x="709" y="834" width="1" height="3" fill="#000"/>
<text x="708.5" y="846" font-size="10" fill="#000" stroke="#000" stroke-width="0.18" textLength="53.3" lengthAdjust="spacingAndGlyphs">25 Apr 12:00</text>
<rect x="773" y="834" width="1" height="3" fill="#000"/>
<text x="772.5" y="846" font-size="10" fill="#000" stroke="#000" stroke-width="0.18" textLength="53.3" lengthAdjust="spacingAndGlyphs">26 Apr 04:00</text>
<rect x="837" y="834" width="1" height="3" fill="#000"/>
<text x="836.5" y="846" font-size="10" fill="#000" stroke="#000" stroke-width="0.18" textLength="53.3" lengthAdjust="spacingAndGlyphs">26 Apr 20:00</text>
<rect x="901" y="834" width="1" height="3" fill="#000"/>
<text x="900.5" y="846" font-size="10" fill="#000" stroke="#000" stroke-width="0.18" textLength="53.3" lengthAdjust="spacingAndGlyphs">27 Apr 12:00</text>
<rect x="965" y="834" width="1" height="3" fill="#000"/>
<text x="964.5" y="846" font-size="10" fill="#000" stroke="#000" stroke-width="0.18" textLength="53.3" lengthAdjust="spacingAndGlyphs">28 Apr 04:00</text>
<rect x="1029" y="834" width="1" height="3" fill="#000"/>
<text x="1028.5" y="846" font-size="10" fill="#000" stroke="#000" stroke-width="0.18" textLength="52" lengthAdjust="spacingAndGlyphs">1 May 00:00</text>
<rect x="1093" y="834" width="1" height="3" fill="#000"/>
<text x="1092.5" y="846" font-size="10" fill="#000" stroke="#000" stroke-width="0.18" textLength="52" lengthAdjust="spacingAndGlyphs">1 May 16:00</text>
<rect x="1157" y="834" width="1" height="3" fill="#000"/>
<text x="1156.5" y="846" font-size="10" fill="#000" stroke="#000" stroke-width="0.18" textLength="52" lengthAdjust="spacingAndGlyphs">2 May 08:00</text>
<rect x="1221" y="834" width="1" height="3" fill="#000"/>
<text x="1220.5" y="846" font-size="10" fill="#000" stroke="#000" stroke-width="0.18" textLength="52" lengthAdjust="spacingAndGlyphs">3 May 00:00</text>
<rect x="1285" y="834" width="1" height="3" fill="#000"/>
<text x="1284.5" y="846" font-size="10" fill="#000" stroke="#000" stroke-width="0.18" textLength="52" lengthAdjust="spacingAndGlyphs">3 May 16:00</text>
<text x="20" y="40" font-size="10" fill="#000" stroke="#000" stroke-width="0.18" textLength="58.7" lengthAdjust="spacingAndGlyphs">USDCNH-,H4</text>
<text x="84.8" y="40" font-size="10" fill="#000" stroke="#000" stroke-width="0.18" textLength="32.8" lengthAdjust="spacingAndGlyphs">6.92351</text>
<text x="120.5" y="40" font-size="10" fill="#000" stroke="#000" stroke-width="0.18" textLength="32.8" lengthAdjust="spacingAndGlyphs">6.92361</text>
<text x="156.2" y="40" font-size="10" fill="#000" stroke="#000" stroke-width="0.18" textLength="32.8" lengthAdjust="spacingAndGlyphs">6.91901</text>
<text x="191.9" y="40" font-size="10" fill="#000" stroke="#000" stroke-width="0.18" textLength="32.8" lengthAdjust="spacingAndGlyphs">6.91940</text>
</svg>
<div id="tb">
<svg width="1692" height="24" viewBox="0 0 1692 24" style="position:absolute;left:0;top:0" font-family='"Liberation Sans", sans-serif'>
<defs>
<linearGradient id="gPlus" x1="0" y1="0" x2="0" y2="1"><stop offset="0" stop-color="#7dff7d"/><stop offset="1" stop-color="#00b400"/></linearGradient>
<linearGradient id="gGold" x1="0" y1="0" x2="1" y2="1"><stop offset="0" stop-color="#ffe680"/><stop offset="0.5" stop-color="#e8b820"/><stop offset="1" stop-color="#b07808"/></linearGradient>
<linearGradient id="gBlue" x1="0" y1="0" x2="0" y2="1"><stop offset="0" stop-color="#5cc0ff"/><stop offset="1" stop-color="#0a6be0"/></linearGradient>
<linearGradient id="gCloud" x1="0" y1="0" x2="0" y2="1"><stop offset="0" stop-color="#ffffff"/><stop offset="1" stop-color="#b8c8e4"/></linearGradient>
<radialGradient id="gBadge" cx="0.5" cy="0.3" r="0.8"><stop offset="0" stop-color="#ee5a3a"/><stop offset="1" stop-color="#d01c10"/></radialGradient>
<radialGradient id="gClock" cx="0.5" cy="0.4" r="0.6"><stop offset="0.6" stop-color="#ffffff"/><stop offset="1" stop-color="#c8d8f0"/></radialGradient>
<linearGradient id="gRing" x1="0" y1="0" x2="0" y2="1"><stop offset="0" stop-color="#3c8cf0"/><stop offset="1" stop-color="#0c3cb0"/></linearGradient>
<linearGradient id="gSig" x1="0.8" y1="0" x2="0.2" y2="1"><stop offset="0" stop-color="#c8e4c8"/><stop offset="0.6" stop-color="#70c070"/><stop offset="1" stop-color="#28a028"/></linearGradient>
<linearGradient id="gYel" x1="0" y1="0" x2="1" y2="1"><stop offset="0" stop-color="#fff080"/><stop offset="1" stop-color="#e0a800"/></linearGradient>
<pattern id="dots" width="2" height="2" patternUnits="userSpaceOnUse"><rect width="2" height="2" fill="#ececec"/><rect width="1" height="1" fill="#ffffff"/><rect x="1" y="1" width="1" height="1" fill="#ffffff"/></pattern>
</defs>
<rect x="5" y="1" width="1" height="21" fill="#a0a0a0" shape-rendering="crispEdges"/>
<path d="M16.5 4.5 h7 l3.5 3.5 v9.5 a1 1 0 0 1 -1 1 h-9.5 a1 1 0 0 1 -1 -1 v-12 a1 1 0 0 1 1 -1z" fill="#fff" stroke="#8c8c8c" stroke-width="1"/>
<path d="M23.5 4.5 v3.5 h3.5" fill="#e8e8e8" stroke="#8c8c8c" stroke-width="1"/>
<g stroke="#a0a0a0" stroke-width="1" shape-rendering="crispEdges"><line x1="17" y1="7.5" x2="20" y2="7.5"/><line x1="17" y1="10.5" x2="23" y2="10.5"/><line x1="17" y1="12.5" x2="22" y2="12.5"/><line x1="17" y1="14.5" x2="21" y2="14.5"/></g>
<path d="M23.300 10.800 h3.400 v3.700 h3.800 v3.400 h-3.800 v3.500 h-3.400 v-3.500 h-3.800 v-3.400 h3.800z" fill="url(#gPlus)" stroke="#0c980c" stroke-width="0.9"/>
<path d="M82.100 13.600 L89.900 19.900 L97.900 13.900 L96.500 11.500 L90.300 17.300z" fill="#d8a828" stroke="#905c04" stroke-width="1.1" stroke-linejoin="round"/>
<path d="M87.600 5 L96.500 11.500 L90.300 17.600 L82.100 13.600 Q85.500 10 87.600 5z" fill="url(#gGold)" stroke="#905c04" stroke-width="1.1" stroke-linejoin="round"/>
<path d="M83 14.300 L90.200 18.300" stroke="#f8e090" stroke-width="1"/>
<path d="M112.300 5.600 l3.200 -1.100 h7.300 v9 h-7.800 l-2.700 -1.500z" fill="#2aa4ff" stroke="#1880e8" stroke-width="0.8" stroke-linejoin="round"/>
<path d="M112.300 5.600 l2.700 1.200 v6.700 l-2.700 -1.500z" fill="#1888f0"/><path d="M115 6.500 v7" stroke="#c8ecff" stroke-width="0.8"/><path d="M112.500 5.700 l2.600 1.100 h7.500" stroke="#a8e0ff" stroke-width="0.7" fill="none"/><rect x="117.500" y="8.300" width="4.500" height="1.300" fill="#e8f8ff"/>
<path d="M113.200 19.500 a3 3 0 0 1 0.300 -5.800 a3.400 3.400 0 0 1 5.800 -0.800 a2.800 2.800 0 0 1 4.300 1.500 a2.600 2.600 0 0 1 -0.300 5.100z" fill="url(#gCloud)" stroke="#3c5898" stroke-width="1.1"/>
<circle cx="145.900" cy="11.900" r="7.800" fill="#f6f8fc"/>
<path d="M145.900 11.900 L145.900 19.800 A7.900 7.900 0 0 0 150.400 5.400z" fill="url(#gSig)"/>
<circle cx="145.900" cy="11.900" r="7.400" fill="none" stroke="#5c88dc" stroke-width="1" opacity="0.75" stroke-dasharray="14 2"/><circle cx="145.900" cy="11.900" r="4.700" fill="none" stroke="#5c88dc" stroke-width="0.9" opacity="0.7"/>
<circle cx="145.800" cy="11.700" r="1.900" fill="#2050d0"/><path d="M146.500 12.200 v7.500" stroke="#18a018" stroke-width="1.300"/>
<path d="M165.800 11.500 L180.500 11 L180 14 L174.500 19.900 L171.500 19.300z" fill="url(#gYel)" stroke="#c89818" stroke-width="0.7" stroke-linejoin="round"/>
<path d="M165.200 9.300 C165.200 6.800 168.500 7 169.600 7.200 C169.800 3.200 176.200 3.200 176.400 7 C178.500 6.200 181 6.300 180.800 8.300 C180.500 10.800 175 11.600 172 11.300 C168.500 11.300 165.200 10.800 165.200 9.300z" fill="#5ab4e4" stroke="#1c80b0" stroke-width="0.8"/>
<path d="M169.800 7.400 C171.500 8.600 174.500 8.600 176.300 7.200" stroke="#2c8cc0" stroke-width="0.7" fill="none"/>
<circle cx="177.500" cy="15.700" r="4.100" fill="#e42408" stroke="#c01c04" stroke-width="0.6"/><rect x="176" y="14.200" width="3" height="3" fill="#fff"/>
<rect x="241" y="0" width="1" height="24" fill="#a0a0a0" shape-rendering="crispEdges"/><rect x="242" y="0" width="1" height="24" fill="#ffffff" shape-rendering="crispEdges"/>
<rect x="245" y="2" width="3" height="1" fill="#a8a8a8" shape-rendering="crispEdges"/>
<rect x="245" y="4" width="3" height="1" fill="#a8a8a8" shape-rendering="crispEdges"/>
<rect x="245" y="6" width="3" height="1" fill="#a8a8a8" shape-rendering="crispEdges"/>
<rect x="245" y="8" width="3" height="1" fill="#a8a8a8" shape-rendering="crispEdges"/>
<rect x="245" y="10" width="3" height="1" fill="#a8a8a8" shape-rendering="crispEdges"/>
<rect x="245" y="12" width="3" height="1" fill="#a8a8a8" shape-rendering="crispEdges"/>
<rect x="245" y="14" width="3" height="1" fill="#a8a8a8" shape-rendering="crispEdges"/>
<rect x="245" y="16" width="3" height="1" fill="#a8a8a8" shape-rendering="crispEdges"/>
<rect x="245" y="18" width="3" height="1" fill="#a8a8a8" shape-rendering="crispEdges"/>
<rect x="245" y="20" width="3" height="1" fill="#a8a8a8" shape-rendering="crispEdges"/>
<g fill="#555555" shape-rendering="crispEdges"><rect x="259" y="6" width="1" height="14"/><rect x="258" y="7" width="3" height="1"/><rect x="257" y="17" width="14" height="1"/><rect x="269" y="16" width="1" height="3"/></g>
<g stroke="#109010" stroke-width="1" fill="none" shape-rendering="crispEdges"><line x1="266.5" y1="7" x2="266.5" y2="15"/><line x1="266" y1="8.5" x2="269" y2="8.5"/><line x1="264" y1="14.5" x2="267" y2="14.5"/></g>
<rect x="279" y="0" width="26" height="23" fill="url(#dots)" shape-rendering="crispEdges"/>
<rect x="279" y="0" width="26" height="1" fill="#a0a0a0" shape-rendering="crispEdges"/><rect x="279" y="0" width="1" height="22" fill="#a0a0a0" shape-rendering="crispEdges"/>
<rect x="304" y="1" width="1" height="22" fill="#ffffff" shape-rendering="crispEdges"/><rect x="279" y="22" width="26" height="1" fill="#ffffff" shape-rendering="crispEdges"/>
<g fill="#555555" shape-rendering="crispEdges"><rect x="287" y="6" width="1" height="14"/><rect x="286" y="7" width="3" height="1"/><rect x="285" y="17" width="14" height="1"/><rect x="297" y="16" width="1" height="3"/></g>
<line x1="293.5" y1="4" x2="293.5" y2="16" stroke="#0a800a" stroke-width="1" shape-rendering="crispEdges"/><rect x="291.5" y="6.5" width="4" height="7" fill="#20e020" stroke="#0a800a" stroke-width="1" shape-rendering="crispEdges"/>
<g fill="#555555" shape-rendering="crispEdges"><rect x="315" y="6" width="1" height="14"/><rect x="314" y="7" width="3" height="1"/><rect x="313" y="17" width="14" height="1"/><rect x="325" y="16" width="1" height="3"/></g>
<path d="M314 15 C317 9 320 7 322 9.5 C324 11.5 325 12.5 326 13" stroke="#109010" stroke-width="1.3" fill="none"/>
<rect x="336" y="1" width="1" height="21" fill="#a0a0a0" shape-rendering="crispEdges"/>
<line x1="354.5" y1="13.5" x2="359" y2="18.5" stroke="#c8a020" stroke-width="2.6" stroke-linecap="round"/>
<circle cx="351" cy="9.5" r="4.8" fill="#d8ecff" stroke="#2c78d0" stroke-width="1.5"/>
<line x1="348.5" y1="9.5" x2="353.5" y2="9.5" stroke="#2c68c8" stroke-width="1.6"/>
<line x1="351" y1="7" x2="351" y2="12" stroke="#2c68c8" stroke-width="1.6"/>
<line x1="382.5" y1="13.5" x2="387" y2="18.5" stroke="#c8a020" stroke-width="2.6" stroke-linecap="round"/>
<circle cx="379" cy="9.5" r="4.8" fill="#d8ecff" stroke="#2c78d0" stroke-width="1.5"/>
<line x1="376.5" y1="9.5" x2="381.5" y2="9.5" stroke="#2c68c8" stroke-width="1.6"/>
<rect x="401" y="4" width="8" height="8" fill="#40a820" shape-rendering="crispEdges"/><rect x="402.5" y="7.5" width="5" height="3" fill="none" stroke="#ffffff" stroke-width="1" opacity="0.9"/><rect x="402" y="5" width="1.5" height="1" fill="#fff" opacity="0.8"/>
<rect x="409" y="4" width="8" height="8" fill="#2858d0" shape-rendering="crispEdges"/><rect x="410.5" y="7.5" width="5" height="3" fill="none" stroke="#ffffff" stroke-width="1" opacity="0.9"/><rect x="410" y="5" width="1.5" height="1" fill="#fff" opacity="0.8"/>
<rect x="401" y="12" width="8" height="8" fill="#2858d0" shape-rendering="crispEdges"/><rect x="402.5" y="15.5" width="5" height="3" fill="none" stroke="#ffffff" stroke-width="1" opacity="0.9"/><rect x="402" y="13" width="1.5" height="1" fill="#fff" opacity="0.8"/>
<rect x="409" y="12" width="8" height="8" fill="#40a820" shape-rendering="crispEdges"/><rect x="410.5" y="15.5" width="5" height="3" fill="none" stroke="#ffffff" stroke-width="1" opacity="0.9"/><rect x="410" y="13" width="1.5" height="1" fill="#fff" opacity="0.8"/>
<rect x="426" y="1" width="1" height="21" fill="#a0a0a0" shape-rendering="crispEdges"/>
<rect x="431" y="0" width="26" height="23" fill="url(#dots)" shape-rendering="crispEdges"/>
<rect x="431" y="0" width="26" height="1" fill="#a0a0a0" shape-rendering="crispEdges"/><rect x="431" y="0" width="1" height="22" fill="#a0a0a0" shape-rendering="crispEdges"/>
<rect x="456" y="1" width="1" height="22" fill="#ffffff" shape-rendering="crispEdges"/><rect x="431" y="22" width="26" height="1" fill="#ffffff" shape-rendering="crispEdges"/>
<g fill="#555555" shape-rendering="crispEdges"><rect x="439" y="6" width="1" height="14"/><rect x="438" y="7" width="3" height="1"/><rect x="437" y="17" width="14" height="1"/><rect x="449" y="16" width="1" height="3"/></g>
<path d="M444.5 8.500 L448.300 11.500 L444.500 14.500z" fill="#58d058" stroke="#109010" stroke-width="1"/>
<rect x="459" y="0" width="26" height="23" fill="url(#dots)" shape-rendering="crispEdges"/>
<rect x="459" y="0" width="26" height="1" fill="#a0a0a0" shape-rendering="crispEdges"/><rect x="459" y="0" width="1" height="22" fill="#a0a0a0" shape-rendering="crispEdges"/>
<rect x="484" y="1" width="1" height="22" fill="#ffffff" shape-rendering="crispEdges"/><rect x="459" y="22" width="26" height="1" fill="#ffffff" shape-rendering="crispEdges"/>
<g fill="#555555" shape-rendering="crispEdges"><rect x="467" y="6" width="1" height="14"/><rect x="466" y="7" width="3" height="1"/><rect x="465" y="17" width="14" height="1"/><rect x="477" y="16" width="1" height="3"/></g>
<line x1="473.5" y1="6" x2="473.5" y2="16" stroke="#2060c0" stroke-width="1" shape-rendering="crispEdges"/><path d="M474.5 11.5 l3.5 -2 v4z M478 11.5 h2" fill="#d04010" stroke="#d04010" stroke-width="0.8"/>
<rect x="488" y="1" width="1" height="21" fill="#a0a0a0" shape-rendering="crispEdges"/>
<path d="M498.5 5.5 h6 l3 3 v8.5 h-9z" fill="#f4f4f4" stroke="#909090" stroke-width="1"/><path d="M500.500 8 h2 M500.5 8 v6 M500.5 11 h2" stroke="#808080" stroke-width="0.8" fill="none"/>
<path d="M506 10.5 h3.500 v3.500 h4 v3.500 h-4 v3.500 h-3.500 v-3.500 h-4 v-3.500 h4z" fill="url(#gPlus)" stroke="#10a010" stroke-width="0.8"/>
<polygon points="520,11 526,11 523,14" fill="#000"/>
<circle cx="544" cy="12" r="6.8" fill="url(#gClock)" stroke="url(#gRing)" stroke-width="2.800"/><path d="M544 8 v4.500 h3" stroke="#505050" stroke-width="1" fill="none"/>
<polygon points="559,11 565,11 562,14" fill="#000"/>
<rect x="575.5" y="5.5" width="15" height="13" fill="#fff" stroke="#3c78c8" stroke-width="1"/><rect x="576" y="6" width="14" height="2" fill="#5c98e0"/><line x1="576" y1="12.5" x2="590" y2="12.5" stroke="#3c78c8" stroke-width="1"/>
<path d="M577.5 11 l2.500 -1 l2 0.500 l2 -1.500 l2 0.800 l2 -1.300" stroke="#b03010" stroke-width="1" fill="none"/><path d="M577.500 16.500 l2.500 -1.500 l2 1 l2.500 -2 l2 1.500 l1.500 -0.500" stroke="#20a020" stroke-width="1" fill="none"/>
<polygon points="598,11 604,11 601,14" fill="#000"/>
<rect x="609" y="0" width="1" height="24" fill="#a0a0a0" shape-rendering="crispEdges"/><rect x="610" y="0" width="1" height="24" fill="#ffffff" shape-rendering="crispEdges"/>
<rect x="613" y="2" width="3" height="1" fill="#a8a8a8" shape-rendering="crispEdges"/>
<rect x="613" y="4" width="3" height="1" fill="#a8a8a8" shape-rendering="crispEdges"/>
<rect x="613" y="6" width="3" height="1" fill="#a8a8a8" shape-rendering="crispEdges"/>
<rect x="613" y="8" width="3" height="1" fill="#a8a8a8" shape-rendering="crispEdges"/>
<rect x="613" y="10" width="3" height="1" fill="#a8a8a8" shape-rendering="crispEdges"/>
<rect x="613" y="12" width="3" height="1" fill="#a8a8a8" shape-rendering="crispEdges"/>
<rect x="613" y="14" width="3" height="1" fill="#a8a8a8" shape-rendering="crispEdges"/>
<rect x="613" y="16" width="3" height="1" fill="#a8a8a8" shape-rendering="crispEdges"/>
<rect x="613" y="18" width="3" height="1" fill="#a8a8a8" shape-rendering="crispEdges"/>
<rect x="613" y="20" width="3" height="1" fill="#a8a8a8" shape-rendering="crispEdges"/>
<rect x="619" y="0" width="26" height="23" fill="url(#dots)" shape-rendering="crispEdges"/>
<rect x="619" y="0" width="26" height="1" fill="#a0a0a0" shape-rendering="crispEdges"/><rect x="619" y="0" width="1" height="22" fill="#a0a0a0" shape-rendering="crispEdges"/>
<rect x="644" y="1" width="1" height="22" fill="#ffffff" shape-rendering="crispEdges"/><rect x="619" y="22" width="26" height="1" fill="#ffffff" shape-rendering="crispEdges"/>
<path d="M627.5 4.500 L627.500 16.500 L630.300 14 L632.500 19 L634.500 18 L632.300 13.300 L636 13z" fill="#505050"/>
<g stroke="#505050" stroke-width="1" shape-rendering="crispEdges"><line x1="659.5" y1="5" x2="659.5" y2="20"/><line x1="652" y1="12.5" x2="667" y2="12.5"/></g><rect x="659" y="12" width="1" height="1" fill="#f0f0f0"/>
<rect x="676" y="1" width="1" height="21" fill="#a0a0a0" shape-rendering="crispEdges"/>
<g stroke="#505050" stroke-width="1" shape-rendering="crispEdges"><line x1="693.5" y1="6" x2="693.5" y2="19"/><line x1="716" y1="12.5" x2="728" y2="12.5"/></g>
<line x1="743.5" y1="19" x2="756" y2="7" stroke="#505050" stroke-width="1.1"/>
<g stroke="#484848" stroke-width="1.1"><line x1="770" y1="13.500" x2="783" y2="5.500"/><line x1="771" y1="16.500" x2="784" y2="8.500"/><line x1="772" y1="19" x2="785" y2="11"/><line x1="773.5" y1="9" x2="775" y2="18"/><line x1="777" y1="7" x2="778.500" y2="16"/><line x1="780.5" y1="5" x2="782" y2="14"/></g>
<text x="781" y="21" font-size="7" font-weight="bold" fill="#404040">E</text>
<line x1="799" y1="5.5" x2="812" y2="5.5" stroke="#505050" stroke-width="1" stroke-dasharray="1,1" shape-rendering="crispEdges"/>
<line x1="799" y1="8.5" x2="812" y2="8.5" stroke="#505050" stroke-width="1" stroke-dasharray="1,1" shape-rendering="crispEdges"/>
<line x1="799" y1="12.5" x2="812" y2="12.5" stroke="#505050" stroke-width="1" stroke-dasharray="1,1" shape-rendering="crispEdges"/>
<line x1="799" y1="16.5" x2="812" y2="16.5" stroke="#505050" stroke-width="1" stroke-dasharray="1,1" shape-rendering="crispEdges"/>
<text x="808.5" y="21" font-size="7" font-weight="bold" fill="#404040">F</text>
<text x="829.6" y="17" font-size="12" font-weight="bold" fill="#555555">A</text>
<rect x="856.5" y="6.500" width="11" height="12" fill="none" stroke="#505050" stroke-width="1" stroke-dasharray="1,1" shape-rendering="crispEdges"/><text x="858.6" y="17" font-size="11" font-weight="bold" fill="#555555">T</text>
<path d="M886.8 5.500 l3.300 3.300 l-3.300 3.300 l-3.300 -3.300z" fill="#404040"/><path d="M893.8 12.600 l3.300 3.300 l-3.300 3.300 l-3.300 -3.300z" fill="#404040"/><path d="M886 12.500 l2.300 2.800 l4.200 -5" stroke="#404040" stroke-width="1.300" fill="none"/>
<polygon points="904,11 910,11 907,14" fill="#000"/>
<rect x="915" y="0" width="1" height="24" fill="#a0a0a0" shape-rendering="crispEdges"/><rect x="916" y="0" width="1" height="24" fill="#ffffff" shape-rendering="crispEdges"/>
<rect x="919" y="2" width="3" height="1" fill="#a8a8a8" shape-rendering="crispEdges"/>
<rect x="919" y="4" width="3" height="1" fill="#a8a8a8" shape-rendering="crispEdges"/>
<rect x="919" y="6" width="3" height="1" fill="#a8a8a8" shape-rendering="crispEdges"/>
<rect x="919" y="8" width="3" height="1" fill="#a8a8a8" shape-rendering="crispEdges"/>
<rect x="919" y="10" width="3" height="1" fill="#a8a8a8" shape-rendering="crispEdges"/>
<rect x="919" y="12" width="3" height="1" fill="#a8a8a8" shape-rendering="crispEdges"/>
<rect x="919" y="14" width="3" height="1" fill="#a8a8a8" shape-rendering="crispEdges"/>
<rect x="919" y="16" width="3" height="1" fill="#a8a8a8" shape-rendering="crispEdges"/>
<rect x="919" y="18" width="3" height="1" fill="#a8a8a8" shape-rendering="crispEdges"/>
<rect x="919" y="20" width="3" height="1" fill="#a8a8a8" shape-rendering="crispEdges"/>
<rect x="1065" y="0" width="26" height="23" fill="url(#dots)" shape-rendering="crispEdges"/>
<rect x="1065" y="0" width="26" height="1" fill="#a0a0a0" shape-rendering="crispEdges"/><rect x="1065" y="0" width="1" height="22" fill="#a0a0a0" shape-rendering="crispEdges"/>
<rect x="1090" y="1" width="1" height="22" fill="#ffffff" shape-rendering="crispEdges"/><rect x="1065" y="22" width="26" height="1" fill="#ffffff" shape-rendering="crispEdges"/>
<rect x="1176" y="0" width="1" height="24" fill="#a0a0a0" shape-rendering="crispEdges"/><rect x="1177" y="0" width="1" height="24" fill="#ffffff" shape-rendering="crispEdges"/>
<line x1="1643.500" y1="12.800" x2="1639.500" y2="16.800" stroke="#2a58c8" stroke-width="2.600" stroke-linecap="round"/><circle cx="1646.500" cy="9.400" r="3.900" fill="#f4f8ff" stroke="#2a58c8" stroke-width="1.200"/>
<ellipse cx="1668.500" cy="14" rx="5.500" ry="4.300" fill="#e4e6ee" stroke="#b8bcc8" stroke-width="0.800"/><path d="M1665.5 17.500 l0.800 3 l2.500 -2.500z" fill="#d8dae4"/>
<circle cx="1677.600" cy="9.400" r="8.100" fill="url(#gBadge)"/><text x="1674.300" y="14" font-size="12.500" fill="#fff">1</text>
<text x="930" y="16" font-size="10" fill="#383838" stroke="#383838" stroke-width="0.12" textLength="13" lengthAdjust="spacingAndGlyphs">M1</text>
<text x="958" y="16" font-size="10" fill="#383838" stroke="#383838" stroke-width="0.12" textLength="13" lengthAdjust="spacingAndGlyphs">M5</text>
<text x="985" y="16" font-size="10" fill="#383838" stroke="#383838" stroke-width="0.12" textLength="17.5" lengthAdjust="spacingAndGlyphs">M15</text>
<text x="1012.5" y="16" font-size="10" fill="#383838" stroke="#383838" stroke-width="0.12" textLength="17.5" lengthAdjust="spacingAndGlyphs">M30</text>
<text x="1043.7" y="16" font-size="10" fill="#383838" stroke="#383838" stroke-width="0.12" textLength="11.5" lengthAdjust="spacingAndGlyphs">H1</text>
<text x="1070.5" y="16" font-size="10" fill="#383838" stroke="#383838" stroke-width="0.12" textLength="12.5" lengthAdjust="spacingAndGlyphs">H4</text>
<text x="1099.7" y="16" font-size="10" fill="#383838" stroke="#383838" stroke-width="0.12" textLength="11.3" lengthAdjust="spacingAndGlyphs">D1</text>
<text x="1127" y="16" font-size="10" fill="#383838" stroke="#383838" stroke-width="0.12" textLength="14" lengthAdjust="spacingAndGlyphs">W1</text>
<text x="1153.5" y="16" font-size="10" fill="#383838" stroke="#383838" stroke-width="0.12" textLength="14.8" lengthAdjust="spacingAndGlyphs">MN</text>
</svg>
<div class="t" style="left:33.6px;top:3.5px;font-size:12.3px;line-height:17px">新订单</div>
<div class="t" style="left:186.1px;top:3.5px;font-size:12.3px;line-height:17px">自动交易</div>
</div>
</body></html>
